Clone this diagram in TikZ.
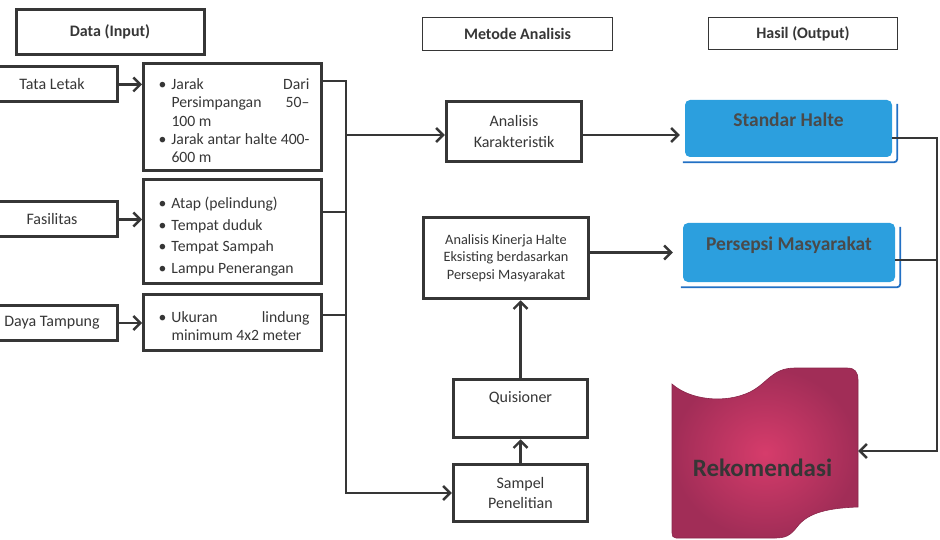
\documentclass[tikz,border=0pt]{standalone}
\usepackage{fontspec}
\setmainfont{Carlito}
\usetikzlibrary{arrows.meta,positioning,calc}
\definecolor{ink}{HTML}{363636}
\definecolor{hblue}{HTML}{2C9FDE}
\definecolor{hblueD}{HTML}{2270C4}
\definecolor{rekIn}{HTML}{D63C6B}
\definecolor{rekOut}{HTML}{A12D57}
\newcommand{\bul}[1]{\par\hangindent=16pt\hangafter=1\noindent\makebox[16pt][l]{\hspace{3pt}\textbullet}#1\par}

\begin{document}
\begin{tikzpicture}[
    x=1pt,y=-1pt,
    box/.style={draw=ink,line width=3pt,text=ink,align=center,inner sep=0pt,font=\fontsize{16}{20.5}\selectfont},
    head/.style={box,font=\fontsize{16}{18}\selectfont\bfseries},
    thinhead/.style={head,line width=1.3pt},
    list/.style={box,text width=154pt,align=justify,minimum width=178pt,font=\fontsize{15.7}{18.2}\selectfont},
    res/.style={fill=hblue,rounded corners=5pt,text=ink!90,inner sep=0pt,text height=14pt,text depth=17pt,font=\fontsize{19.5}{22}\selectfont\bfseries},
    arr/.style={-{Straight Barb[length=7pt,width=14pt]},line width=2.4pt,draw=ink},
    wire/.style={line width=2.4pt,draw=ink}
]
\useasboundingbox (0,0) rectangle (940,540);

\node[head,minimum width=188pt,minimum height=45pt] (dataIn) at (110,32) {Data (Input)};
\node[thinhead,minimum width=190pt,minimum height=33pt] (metode) at (517.5,34) {Metode Analisis};
\node[thinhead,minimum width=189pt,minimum height=32pt] (hasil) at (803,33.5) {Hasil (Output)};

\node[box,minimum width=130pt,minimum height=35pt] (tata) at (52,84.5) {Tata Letak};
\node[box,minimum width=130pt,minimum height=35pt] (fasil) at (52,219.5) {Fasilitas};
\node[box,minimum width=130pt,minimum height=35pt] (daya) at (52,323) {Daya Tampung};

\node[list,minimum height=107pt] (tataC) at (232.5,117) {\bul{Jarak\hfill Dari\break Persimpangan\hfill 50--\break 100 m}\bul{Jarak antar halte 400-\break 600 m}};
\node[list,minimum height=104pt,font=\fontsize{15.7}{21.7}\selectfont] (fasilC) at (232.5,231.5) {\bul{Atap (pelindung)}\bul{Tempat duduk}\bul{Tempat Sampah}\bul{Lampu Penerangan}};
\node[list,minimum height=56pt] (dayaC) at (232.5,322.5) {\bul{Ukuran\hfill lindung\break minimum 4x2 meter}};

\node[box,line width=3.5pt,minimum width=135pt,minimum height=60pt] (aK) at (514,131.5) {Analisis\\Karakteristik};
\node[box,line width=3.5pt,minimum width=165pt,minimum height=81pt,font=\fontsize{14.3}{17.5}\selectfont] (kin) at (506,258) {Analisis Kinerja Halte\\Eksisting berdasarkan\\Persepsi Masyarakat};
\node[box,line width=3.5pt,minimum width=134pt,minimum height=58pt,text height=11pt,text depth=22.4pt] (quis) at (520.5,408.5) {Quisioner};
\node[box,line width=3.5pt,minimum width=134pt,minimum height=57pt] (samp) at (520.5,493) {Sampel\\Penelitian};

\node[res,minimum width=207pt,minimum height=57pt] (std) at (788.5,128.5) {Standar Halte};
\node[res,minimum width=212pt,minimum height=59pt] (per) at (789,252.5) {Persepsi Masyarakat};
\draw[hblueD,line width=1.8pt,rounded corners=3pt] ([xshift=-2pt,yshift=-5pt]std.south west) -- ([xshift=5pt,yshift=-5pt]std.south east) -- ([xshift=5pt,yshift=-4pt]std.north east);
\draw[hblueD,line width=1.8pt,rounded corners=3pt] ([xshift=-2pt,yshift=-5pt]per.south west) -- ([xshift=5pt,yshift=-5pt]per.south east) -- ([xshift=5pt,yshift=-4pt]per.north east);

\shadedraw[inner color=rekIn,outer color=rekOut,draw=rekOut!85!black,line width=0.6pt]
    (672,384) .. controls (690,400) and (725,404) .. (750,392)
    .. controls (768,383) and (772,368) .. (795,368)
    -- (847,368) .. controls (855,368) and (858,372) .. (858,380)
    -- (858,507) .. controls (830,508) and (808,512) .. (797,527)
    .. controls (790,536) and (785,538) .. (775,538)
    -- (676,538) .. controls (673,538) and (672,536) .. (672,533) -- cycle;
\node[minimum width=186pt,minimum height=172pt,inner sep=0pt] (rekbox) at (765,452) {};
\node[text=ink,font=\fontsize{25}{28}\selectfont\bfseries] (rek) at (762.5,468) {Rekomendasi};

\coordinate (bT) at (346,81);
\coordinate (bK) at (346,135);
\coordinate (bF) at (346,212);
\coordinate (bD) at (346,315);
\coordinate (bS) at (346,493);
\coordinate (rS) at (937,138);
\coordinate (rP) at (937,260);
\coordinate (rR) at (937,451);

\draw[arr] (tata) -- (tataC.west |- tata);
\draw[arr] (fasil) -- (fasilC.west |- fasil);
\draw[arr] (daya) -- (dayaC.west |- daya);
\draw[arr] (tataC.east |- bT) -- (bT) -- (bS) -- (samp.west);
\draw[wire] (fasilC.east |- bF) -- (bF);
\draw[wire] (dayaC.east |- bD) -- (bD);
\draw[arr] (bK) -- (bK -| aK.west);
\draw[arr,shorten >=5pt] (aK.east |- bK) -- (bK -| std.west);
\draw[arr,shorten >=10pt] (kin.east |- per.west) -- (per.west);
\draw[arr] (samp.north) -- (quis.south);
\draw[arr] (quis.north) -- (quis.north |- kin.south);
\draw[arr] (std.east |- rS) -- (rS) -- (rR) -- (rR -| rekbox.east);
\draw[wire] (per.east |- rP) -- (rP);
\end{tikzpicture}
\end{document}
